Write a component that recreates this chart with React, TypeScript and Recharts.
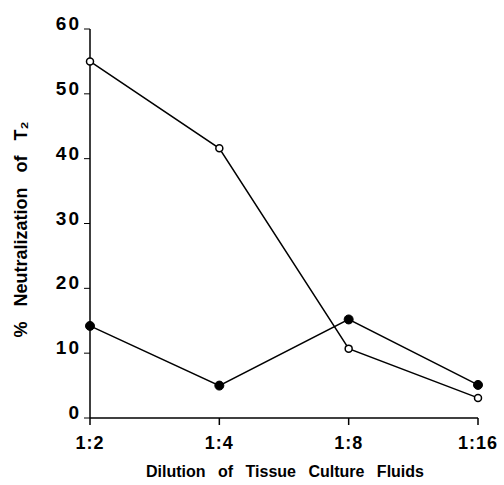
import { LineChart, Line, XAxis, YAxis } from 'recharts'

const dilutions = ['1:2', '1:4', '1:8', '1:16']
const openSeries = [55, 41.6, 10.7, 3.1]
const filledSeries = [14.2, 5.0, 15.2, 5.1]
const yTicks = [0, 10, 20, 30, 40, 50, 60]

const data = dilutions.map((d, i) => ({ dilution: d, open: openSeries[i], filled: filledSeries[i] }))

const font = '"Liberation Sans", Arial, sans-serif'

function YTick({ x, y, payload }: any) {
  return (
    <text x={x - 1} y={y + 1} textAnchor="end" fontFamily={font} fontWeight="bold" fontSize={19} letterSpacing={2} fill="#000">
      {payload.value}
    </text>
  )
}

function XTick({ x, y, payload }: any) {
  return (
    <text x={x} y={y + 22} textAnchor="middle" fontFamily={font} fontWeight="bold" fontSize={18} letterSpacing={1} fill="#000">
      {payload.value}
    </text>
  )
}

function XLabel({ viewBox }: any) {
  const cx = viewBox.x + viewBox.width / 2
  return (
    <text x={cx + 1} y={477} textAnchor="middle" fontFamily={font} fontWeight="bold" fontSize={16} wordSpacing={8} fill="#000">
      Dilution of Tissue Culture Fluids
    </text>
  )
}

function YLabel({ viewBox }: any) {
  const cy = viewBox.y + viewBox.height / 2
  return (
    <text x={27} y={cy + 6} transform={`rotate(-90 27 ${cy + 6})`} textAnchor="middle" fontFamily={font} fontWeight="bold" fontSize={18} wordSpacing={10} fill="#000">
      % Neutralization of T{'\u2082'}
    </text>
  )
}

export default function App() {
  return (
    <div style={{ position: 'absolute', left: 0, top: 0, width: 504, height: 485, background: '#fff' }}>
      <LineChart width={504} height={485} data={data} margin={{ top: 29, right: 26, bottom: 17, left: 40 }}>
        <XAxis
          dataKey="dilution"
          stroke="#000"
          strokeWidth={1.5}
          tickLine={{ stroke: '#000', strokeWidth: 1.5 }}
          tickSize={7}
          tick={<XTick />}
          height={50}
          label={<XLabel />}
        />
        <YAxis
          domain={[0, 60]}
          ticks={yTicks}
          stroke="#000"
          strokeWidth={1.5}
          tickLine={{ stroke: '#000', strokeWidth: 1 }}
          tickSize={6}
          tick={<YTick />}
          width={50}
          label={<YLabel />}
        />
        <Line
          dataKey="open"
          stroke="#000"
          strokeWidth={1.5}
          isAnimationActive={false}
          dot={{ r: 3.5, fill: '#fff', stroke: '#000', strokeWidth: 1.5 }}
        />
        <Line
          dataKey="filled"
          stroke="#000"
          strokeWidth={1.5}
          isAnimationActive={false}
          dot={{ r: 4.5, fill: '#000', stroke: '#000', strokeWidth: 1 }}
        />
      </LineChart>
    </div>
  )
}
